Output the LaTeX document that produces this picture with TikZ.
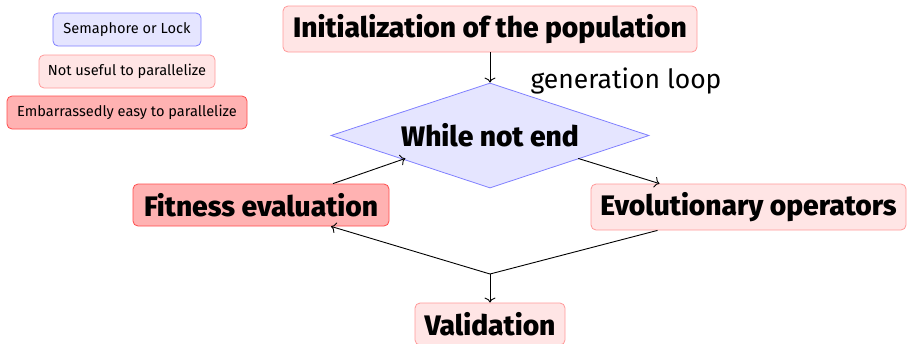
\documentclass[tikz,border=0pt]{standalone}
\usepackage{fontspec}
\setmainfont{Fira Sans}
\newfontfamily\heavyfont{Fira Sans ExtraBold}
\usetikzlibrary{shapes.geometric,calc,arrows.meta}
\begin{document}
\begin{tikzpicture}[x=1pt,y=-1pt,
  box/.style={draw, rounded corners=5pt, line width=0.8pt, inner sep=0pt},
  lock/.style={box, fill=blue!10, draw=blue!50},
  useless/.style={box, fill=red!10, draw=red!40},
  easy/.style={box, fill=red!30, draw=red!70},
  legendtxt/.style={font=\fontsize{14.6}{17}\selectfont, minimum height=33pt},
  bigtxt/.style={font=\fontsize{28.2}{32}\selectfont\heavyfont},
  conn/.style={-{To[length=5pt,width=11pt]}, line width=0.9pt}]
\useasboundingbox (0,0) rectangle (907,343);
% legend
\node[lock, legendtxt, minimum width=148pt] (l1) at (127,29.5) {Semaphore or Lock};
\node[useless, legendtxt, minimum width=176pt] (l2) at (127,71.5) {Not useful to parallelize};
\node[easy, legendtxt, minimum width=240pt] (l3) at (127,112.5) {Embarrassedly easy to parallelize};
% main nodes
\node[useless, bigtxt, minimum width=414pt, minimum height=46pt] (init) at (490,29) {Initialization of the population};
\node[draw=blue!50, fill=blue!10, line width=0.8pt, diamond, aspect=3, inner sep=0pt,
      minimum width=318pt, minimum height=105pt, bigtxt] (loop) at (490,135.5) {While not end};
\node[font=\fontsize{26.5}{30}\selectfont, anchor=center] (gen) at (626,81) {generation loop};
\node[easy, bigtxt, minimum width=256pt, minimum height=42pt] (fit) at (261,205) {Fitness evaluation};
\node[useless, bigtxt, minimum width=315pt, minimum height=46pt] (evo) at (748.5,207) {Evolutionary operators};
\node[useless, bigtxt, minimum width=150pt, minimum height=42pt] (val) at (490,324) {Validation};
\coordinate (junc) at (490,274);
% connectors
\draw[conn] (init) -- (loop.north);
\draw[conn] ($(fit.north)+(72,0)$) -- ($(loop.south west)+(-5,-3.5)$);
\draw[conn] ($(loop.south east)+(8.5,-3.5)$) -- ($(evo.north)+(-89,0)$);
\draw[line width=0.9pt] ($(evo.south)+(-91,0)$) -- (junc);
\draw[conn] (junc) -- ($(fit.south)+(70,0)$);
\draw[conn] (junc) -- (val.north);
\end{tikzpicture}
\end{document}
